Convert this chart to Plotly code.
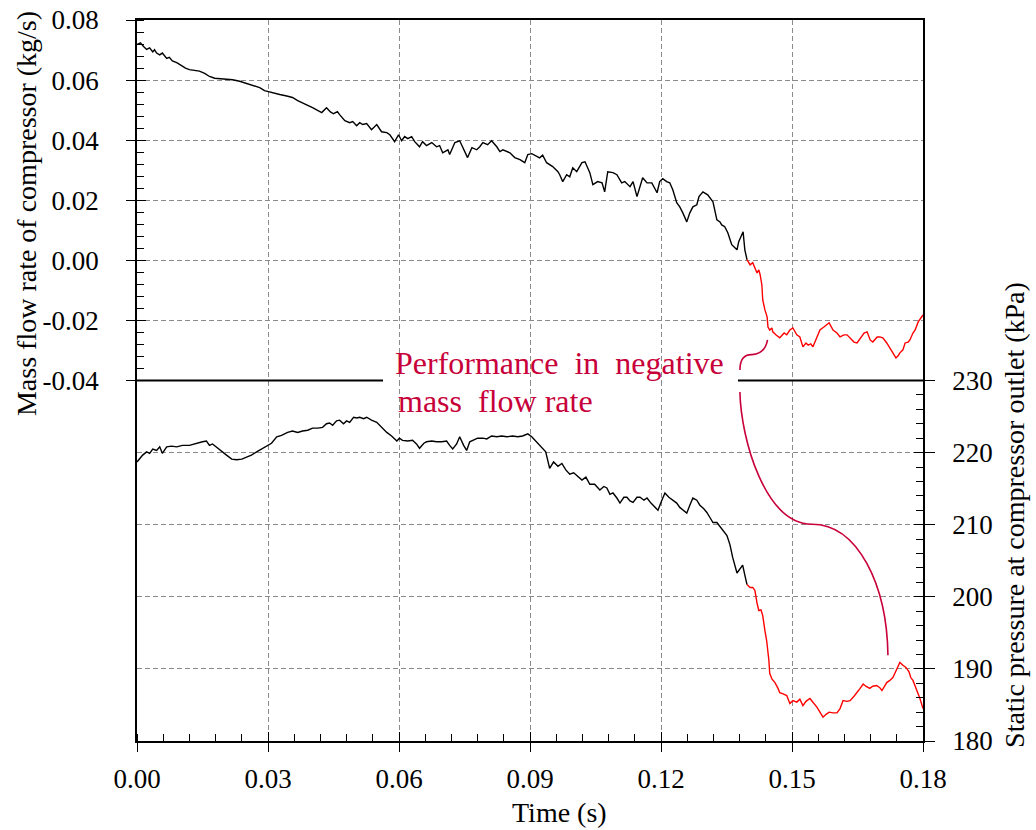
import plotly.graph_objects as go

FONT = "Liberation Serif, Times New Roman, serif"

# ---------------- data ----------------
# Mass flow rate of compressor (kg/s) - positive region (black)
t_mass_pos = [0.0000, 0.0008, 0.0015, 0.0022, 0.0029, 0.0036, 0.0040, 0.0045, 0.0052, 0.0058,
              0.0068, 0.0074, 0.0081, 0.0091, 0.0102, 0.0111, 0.0120, 0.0132, 0.0143, 0.0155,
              0.0166, 0.0178, 0.0189, 0.0205, 0.0219, 0.0235, 0.0251, 0.0267, 0.0281, 0.0292,
              0.0299, 0.0308, 0.0317, 0.0327, 0.0343, 0.0356, 0.0368, 0.0380, 0.0391, 0.0402,
              0.0414, 0.0423, 0.0434, 0.0443, 0.0450, 0.0459, 0.0464, 0.0476, 0.0487, 0.0494,
              0.0503, 0.0510, 0.0517, 0.0526, 0.0537, 0.0549, 0.0560, 0.0572, 0.0579, 0.0590,
              0.0599, 0.0606, 0.0613, 0.0620, 0.0629, 0.0636, 0.0647, 0.0654, 0.0663, 0.0675,
              0.0686, 0.0693, 0.0700, 0.0712, 0.0716, 0.0728, 0.0739, 0.0746, 0.0757, 0.0767,
              0.0778, 0.0785, 0.0792, 0.0803, 0.0812, 0.0824, 0.0831, 0.0838, 0.0854, 0.0865,
              0.0877, 0.0888, 0.0895, 0.0904, 0.0916, 0.0922, 0.0929, 0.0938, 0.0952, 0.0964,
              0.0968, 0.0975, 0.0984, 0.0991, 0.0998, 0.1007, 0.1019, 0.1026, 0.1037, 0.1044,
              0.1055, 0.1065, 0.1071, 0.1078, 0.1090, 0.1099, 0.1110, 0.1117, 0.1129, 0.1136,
              0.1145, 0.1152, 0.1158, 0.1168, 0.1179, 0.1191, 0.1197, 0.1204, 0.1213, 0.1220,
              0.1227, 0.1236, 0.1243, 0.1250, 0.1259, 0.1266, 0.1273, 0.1282, 0.1287, 0.1296,
              0.1307, 0.1319, 0.1328, 0.1335, 0.1339, 0.1346, 0.1353, 0.1362, 0.1374, 0.1378,
              0.1388, 0.1392, 0.1397]
mass_pos = [0.0718, 0.0724, 0.0712, 0.0702, 0.0707, 0.0694, 0.0701, 0.0690, 0.0684, 0.0690,
            0.0672, 0.0676, 0.0664, 0.0658, 0.0648, 0.0640, 0.0635, 0.0632, 0.0630, 0.0622,
            0.0612, 0.0606, 0.0605, 0.0602, 0.0601, 0.0596, 0.0588, 0.0582, 0.0575, 0.0565,
            0.0562, 0.0558, 0.0555, 0.0552, 0.0547, 0.0542, 0.0532, 0.0525, 0.0516, 0.0508,
            0.0498, 0.0492, 0.0508, 0.0494, 0.0488, 0.0495, 0.0485, 0.0465, 0.0458, 0.0462,
            0.0448, 0.0458, 0.0452, 0.0455, 0.0435, 0.0452, 0.0428, 0.0425, 0.0418, 0.0395,
            0.0418, 0.0398, 0.0412, 0.0405, 0.0412, 0.0395, 0.0378, 0.0395, 0.0382, 0.0392,
            0.0378, 0.0382, 0.0358, 0.0368, 0.0352, 0.0392, 0.0398, 0.0375, 0.0342, 0.0375,
            0.0368, 0.0378, 0.0392, 0.0385, 0.0398, 0.0378, 0.0362, 0.0368, 0.0358, 0.0342,
            0.0335, 0.0325, 0.0352, 0.0355, 0.0345, 0.0341, 0.0350, 0.0325, 0.0312, 0.0295,
            0.0285, 0.0262, 0.0285, 0.0278, 0.0308, 0.0295, 0.0325, 0.0328, 0.0292, 0.0252,
            0.0262, 0.0258, 0.0228, 0.0295, 0.0292, 0.0285, 0.0258, 0.0262, 0.0245, 0.0262,
            0.0212, 0.0245, 0.0275, 0.0258, 0.0258, 0.0225, 0.0262, 0.0272, 0.0262, 0.0258,
            0.0235, 0.0192, 0.0178, 0.0158, 0.0128, 0.0158, 0.0178, 0.0185, 0.0212, 0.0228,
            0.0218, 0.0195, 0.0135, 0.0128, 0.0118, 0.0112, 0.0092, 0.0052, 0.0035, 0.0062,
            0.0095, 0.0035, 0.0002]

# Mass flow rate - negative region (red)
t_mass_neg = [0.1397, 0.1404, 0.1410, 0.1415, 0.1420, 0.1424, 0.1427, 0.1431, 0.1433, 0.1438,
              0.1443, 0.1445, 0.1449, 0.1454, 0.1456, 0.1463, 0.1472, 0.1482, 0.1488, 0.1495,
              0.1502, 0.1511, 0.1518, 0.1525, 0.1532, 0.1537, 0.1543, 0.1548, 0.1557, 0.1564,
              0.1573, 0.1585, 0.1594, 0.1603, 0.1610, 0.1619, 0.1626, 0.1633, 0.1642, 0.1649,
              0.1658, 0.1665, 0.1672, 0.1679, 0.1685, 0.1695, 0.1701, 0.1708, 0.1717, 0.1724,
              0.1731, 0.1738, 0.1743, 0.1747, 0.1754, 0.1759, 0.1766, 0.1770, 0.1777, 0.1782,
              0.1789, 0.1793, 0.1800]
mass_neg = [0.0002, -0.0015, -0.0008, -0.0025, -0.0042, -0.0032, -0.0048, -0.0082, -0.0132, -0.0165,
            -0.0188, -0.0222, -0.0232, -0.0225, -0.0238, -0.0248, -0.0258, -0.0242, -0.0248, -0.0232,
            -0.0225, -0.0248, -0.0255, -0.0288, -0.0275, -0.0282, -0.0278, -0.0288, -0.0258, -0.0232,
            -0.0222, -0.0208, -0.0232, -0.0242, -0.0255, -0.0248, -0.0248, -0.0258, -0.0272, -0.0275,
            -0.0258, -0.0242, -0.0238, -0.0265, -0.0272, -0.0255, -0.0255, -0.0258, -0.0275, -0.0292,
            -0.0308, -0.0325, -0.0318, -0.0308, -0.0298, -0.0275, -0.0272, -0.0265, -0.0242, -0.0232,
            -0.0205, -0.0198, -0.0182]

# Static pressure at compressor outlet (kPa) - before reversal (black)
t_pres_pos = [0.0000, 0.0013, 0.0022, 0.0029, 0.0036, 0.0045, 0.0052, 0.0058, 0.0068, 0.0079,
              0.0091, 0.0104, 0.0120, 0.0136, 0.0150, 0.0159, 0.0166, 0.0173, 0.0182, 0.0194,
              0.0205, 0.0217, 0.0228, 0.0240, 0.0251, 0.0262, 0.0274, 0.0285, 0.0297, 0.0308,
              0.0320, 0.0331, 0.0345, 0.0356, 0.0368, 0.0379, 0.0391, 0.0402, 0.0414, 0.0425,
              0.0434, 0.0441, 0.0448, 0.0457, 0.0464, 0.0473, 0.0480, 0.0487, 0.0496, 0.0503,
              0.0510, 0.0519, 0.0526, 0.0537, 0.0549, 0.0560, 0.0572, 0.0583, 0.0595, 0.0601,
              0.0608, 0.0620, 0.0631, 0.0640, 0.0647, 0.0657, 0.0663, 0.0675, 0.0686, 0.0698,
              0.0709, 0.0716, 0.0723, 0.0732, 0.0739, 0.0748, 0.0755, 0.0762, 0.0771, 0.0780,
              0.0792, 0.0801, 0.0812, 0.0824, 0.0835, 0.0847, 0.0860, 0.0872, 0.0883, 0.0895,
              0.0904, 0.0915, 0.0927, 0.0936, 0.0945, 0.0954, 0.0964, 0.0973, 0.0982, 0.0991,
              0.1000, 0.1009, 0.1019, 0.1028, 0.1037, 0.1048, 0.1060, 0.1069, 0.1076, 0.1083,
              0.1090, 0.1099, 0.1106, 0.1115, 0.1122, 0.1129, 0.1136, 0.1145, 0.1152, 0.1161,
              0.1168, 0.1177, 0.1184, 0.1193, 0.1202, 0.1209, 0.1218, 0.1227, 0.1236, 0.1243,
              0.1252, 0.1259, 0.1266, 0.1273, 0.1282, 0.1289, 0.1298, 0.1305, 0.1312, 0.1319,
              0.1328, 0.1335, 0.1344, 0.1351, 0.1358, 0.1364, 0.1374, 0.1381, 0.1387, 0.1392,
              0.1397]
pres_pos = [218.7, 219.65, 220.1, 219.9, 220.5, 220.3, 220.8, 219.9, 220.8, 220.9,
            220.8, 221.0, 221.0, 221.3, 221.5, 221.6, 221.0, 221.2, 220.8, 220.2,
            219.65, 219.1, 219.0, 219.1, 219.4, 219.65, 220.1, 220.5, 221.0, 221.3,
            222.2, 222.4, 222.8, 223.0, 222.8, 223.0, 223.1, 223.4, 223.4, 223.5,
            224.0, 224.1, 223.8, 224.4, 224.5, 224.0, 224.4, 224.2, 224.9, 224.8,
            224.9, 224.7, 224.9, 224.5, 224.2, 223.5, 222.8, 222.3, 221.6, 222.0,
            221.7, 221.6, 221.7, 221.2, 220.6, 221.3, 221.5, 221.6, 221.5, 221.5,
            221.6, 221.0, 220.5, 221.2, 222.2, 221.0, 220.3, 221.5, 221.7, 222.0,
            222.0, 221.9, 222.3, 222.2, 222.3, 222.2, 222.3, 222.2, 222.3, 222.6,
            222.2, 221.5, 220.6, 220.1, 217.8, 218.7, 218.1, 218.5, 217.6, 217.0,
            217.2, 216.7, 216.2, 216.6, 215.6, 215.6, 214.8, 215.3, 215.1, 214.2,
            214.4, 213.7, 213.0, 213.8, 213.8, 213.3, 213.1, 213.8, 213.8, 213.4,
            213.7, 213.0, 212.6, 212.0, 213.4, 214.4, 213.8, 213.4, 213.0, 212.4,
            212.0, 211.6, 212.7, 213.7, 213.4, 212.7, 212.2, 211.7, 211.0, 210.3,
            210.3, 209.7, 209.1, 208.5, 207.2, 205.5, 203.3, 204.0, 204.4, 203.0,
            201.7]

# Static pressure - during negative mass flow (red)
t_pres_neg = [0.1397, 0.1404, 0.1410, 0.1415, 0.1420, 0.1424, 0.1429, 0.1433, 0.1438, 0.1442,
              0.1447, 0.1449, 0.1454, 0.1461, 0.1468, 0.1472, 0.1481, 0.1488, 0.1495, 0.1502,
              0.1511, 0.1518, 0.1525, 0.1532, 0.1541, 0.1548, 0.1557, 0.1564, 0.1571, 0.1578,
              0.1585, 0.1594, 0.1603, 0.1610, 0.1617, 0.1626, 0.1633, 0.1642, 0.1649, 0.1656,
              0.1663, 0.1669, 0.1678, 0.1685, 0.1694, 0.1701, 0.1706, 0.1713, 0.1717, 0.1724,
              0.1731, 0.1738, 0.1743, 0.1747, 0.1754, 0.1761, 0.1768, 0.1772, 0.1777, 0.1782,
              0.1789, 0.1793, 0.1800]
pres_neg = [201.7, 201.3, 201.3, 200.9, 199.1, 198.1, 198.2, 197.4, 195.3, 193.9,
            191.2, 189.4, 188.6, 188.1, 187.3, 186.7, 186.5, 186.3, 185.2, 185.6,
            185.4, 185.8, 184.9, 185.5, 185.9, 185.4, 184.7, 184.0, 183.3, 183.7,
            184.0, 183.9, 183.9, 184.5, 185.6, 185.5, 185.6, 186.2, 186.7, 187.3,
            187.9, 187.6, 187.3, 187.6, 187.7, 187.4, 187.0, 187.8, 188.1, 188.4,
            188.8, 189.7, 190.3, 190.9, 190.5, 190.2, 189.6, 188.8, 188.4, 187.7,
            186.7, 185.9, 184.5]

# tick labels
time_ticks = [0.00, 0.03, 0.06, 0.09, 0.12, 0.15, 0.18]
time_labels = ["0.00", "0.03", "0.06", "0.09", "0.12", "0.15", "0.18"]
mass_ticks = [-0.04, -0.02, 0.00, 0.02, 0.04, 0.06, 0.08]
mass_labels = ["-0.04", "-0.02", "0.00", "0.02", "0.04", "0.06", "0.08"]
pres_ticks = [180, 190, 200, 210, 220, 230]
pres_labels = ["180", "190", "200", "210", "220", "230"]

# ---------------- figure ----------------
BLACK = "#000000"
RED = "#FF0000"
ACCENT = "#C8003A"
GRID = "#8a8a8a"
GRIDDASH = "5px,3px"

fig = go.Figure()
fig.add_trace(go.Scatter(x=t_mass_pos, y=mass_pos, xaxis="x2", yaxis="y", mode="lines",
                         line=dict(color=BLACK, width=1.4), showlegend=False, hoverinfo="skip"))
fig.add_trace(go.Scatter(x=t_mass_neg, y=mass_neg, xaxis="x2", yaxis="y", mode="lines",
                         line=dict(color=RED, width=1.4), showlegend=False, hoverinfo="skip"))
fig.add_trace(go.Scatter(x=t_pres_pos, y=pres_pos, xaxis="x", yaxis="y2", mode="lines",
                         line=dict(color=BLACK, width=1.4), showlegend=False, hoverinfo="skip"))
fig.add_trace(go.Scatter(x=t_pres_neg, y=pres_neg, xaxis="x", yaxis="y2", mode="lines",
                         line=dict(color=RED, width=1.4), showlegend=False, hoverinfo="skip"))
# empty traces to create the overlay (crossing tick / grid) axes
for xa, ya in [("x3", "y2"), ("x", "y4"), ("x2", "y3")]:
    fig.add_trace(go.Scatter(x=[None], y=[None], xaxis=xa, yaxis=ya, mode="lines",
                             showlegend=False, hoverinfo="skip"))

tickfont = dict(family=FONT, size=27, color=BLACK)
common_line = dict(showline=True, linecolor=BLACK, linewidth=1.5, zeroline=False)

fig.update_layout(
    width=1036, height=830,
    margin=dict(l=137, r=113, t=20, b=89, autoexpand=False),
    paper_bgcolor="white", plot_bgcolor="white",
    font=dict(family=FONT, color=BLACK),
    showlegend=False,
    # bottom time axis
    xaxis=dict(domain=[0, 1], anchor="y2", range=[0, 0.18], tickmode="array",
               tickvals=time_ticks, ticktext=time_labels, ticks="outside", ticklen=9,
               tickwidth=1.3, tickcolor=BLACK, tickfont=tickfont, ticklabelstandoff=4,
               showgrid=True, gridcolor=GRID, griddash=GRIDDASH, gridwidth=1,
               minor=dict(tickmode="linear", tick0=0, dtick=0.006, ticks="inside", ticklen=7,
                          tickwidth=1.2, tickcolor=BLACK, showgrid=False),
               **common_line),
    xaxis3=dict(overlaying="x", anchor="y2", range=[0, 0.18], tickmode="array",
                tickvals=time_ticks, ticks="inside", ticklen=9, tickwidth=1.3, tickcolor=BLACK,
                showticklabels=False, showgrid=False, showline=False, zeroline=False),
    # top panel x axis (grid + top border)
    xaxis2=dict(domain=[0, 1], anchor="y", matches="x", side="top", tickmode="array",
                tickvals=time_ticks, ticks="", showticklabels=False,
                showgrid=True, gridcolor=GRID, griddash=GRIDDASH, gridwidth=1,
                **common_line),
    # mass flow axis (top, left)
    yaxis=dict(domain=[0.5, 1], anchor="x2", range=[-0.04, 0.08], tickmode="array",
               tickvals=mass_ticks, ticktext=mass_labels, ticks="outside", ticklen=9,
               tickwidth=1.3, tickcolor=BLACK, tickfont=tickfont, ticklabelstandoff=22,
               showgrid=False, mirror=True,
               minor=dict(tickmode="linear", tick0=0, dtick=0.004, ticks="inside", ticklen=7,
                          tickwidth=1.2, tickcolor=BLACK, showgrid=False),
               **common_line),
    yaxis3=dict(overlaying="y", anchor="x2", side="left", range=[-0.04, 0.08], tickmode="array",
                tickvals=mass_ticks[1:-1], ticks="inside", ticklen=9, tickwidth=1.3,
                tickcolor=BLACK, showticklabels=False, showgrid=True, gridcolor=GRID,
                griddash=GRIDDASH, gridwidth=1, showline=False, zeroline=False),
    # pressure axis (bottom, right)
    yaxis2=dict(domain=[0, 0.5], anchor="x", side="right", range=[180, 230], tickmode="array",
                tickvals=pres_ticks, ticktext=pres_labels, ticks="outside", ticklen=10,
                tickwidth=1.3, tickcolor=BLACK, tickfont=tickfont, ticklabelstandoff=12,
                showgrid=False, mirror=True,
                minor=dict(tickmode="linear", tick0=180, dtick=2, ticks="inside", ticklen=7,
                           tickwidth=1.2, tickcolor=BLACK, showgrid=False),
                **common_line),
    yaxis4=dict(overlaying="y2", anchor="x", side="right", range=[180, 230], tickmode="array",
                tickvals=pres_ticks[1:-1], ticks="inside", ticklen=9, tickwidth=1.3,
                tickcolor=BLACK, showticklabels=False, showgrid=True, gridcolor=GRID,
                griddash=GRIDDASH, gridwidth=1, showline=False, zeroline=False),
)

# divider between panels, interrupted by the callout text
fig.add_shape(type="line", xref="paper", yref="paper", x0=0, x1=0.313, y0=0.5, y1=0.5,
              line=dict(color=BLACK, width=2.2))
fig.add_shape(type="line", xref="paper", yref="paper", x0=0.7646, x1=1.0, y0=0.5, y1=0.5,
              line=dict(color=BLACK, width=2.2))

# brace-like callout curves
fig.add_shape(type="path", xref="x2", yref="y",
              path="M 0.13807,-0.0365 Q 0.1381,-0.0313 0.1408,-0.0314 Q 0.1438,-0.0312 0.1444,-0.0265",
              line=dict(color=ACCENT, width=1.6))
fig.add_shape(type="path", xref="x", yref="y2",
              path=("M 0.13807,228.40 C 0.13830,221.9 0.14380,210.07 0.15457,210.07 "
                    "C 0.16511,210.07 0.17175,201.60 0.17197,191.88"),
              line=dict(color=ACCENT, width=1.6))

# callout text
fig.add_annotation(text="Performance  in  negative", xref="paper", yref="paper",
                   x=0.3257, y=0.5243, xanchor="left", yanchor="middle", showarrow=False,
                   font=dict(family=FONT, size=32, color=ACCENT))
fig.add_annotation(text="mass  flow rate", xref="paper", yref="paper",
                   x=0.3299, y=0.4716, xanchor="left", yanchor="middle", showarrow=False,
                   font=dict(family=FONT, size=32, color=ACCENT))

# axis titles
fig.add_annotation(text="Mass flow rate of compressor (kg/s)", xref="paper", yref="paper",
                   x=-0.1412, y=0.7309, xanchor="center", yanchor="middle", textangle=-90,
                   showarrow=False, font=dict(family=FONT, size=28, color=BLACK))
fig.add_annotation(text="Static pressure at compressor outlet (kPa)", xref="paper", yref="paper",
                   x=1.117, y=0.3135, xanchor="center", yanchor="middle", textangle=-90,
                   showarrow=False, font=dict(family=FONT, size=28, color=BLACK))
fig.add_annotation(text="Time (s)", xref="paper", yref="paper",
                   x=0.538, y=-0.0985, xanchor="center", yanchor="middle",
                   showarrow=False, font=dict(family=FONT, size=28, color=BLACK))

fig.write_html("out.html")
